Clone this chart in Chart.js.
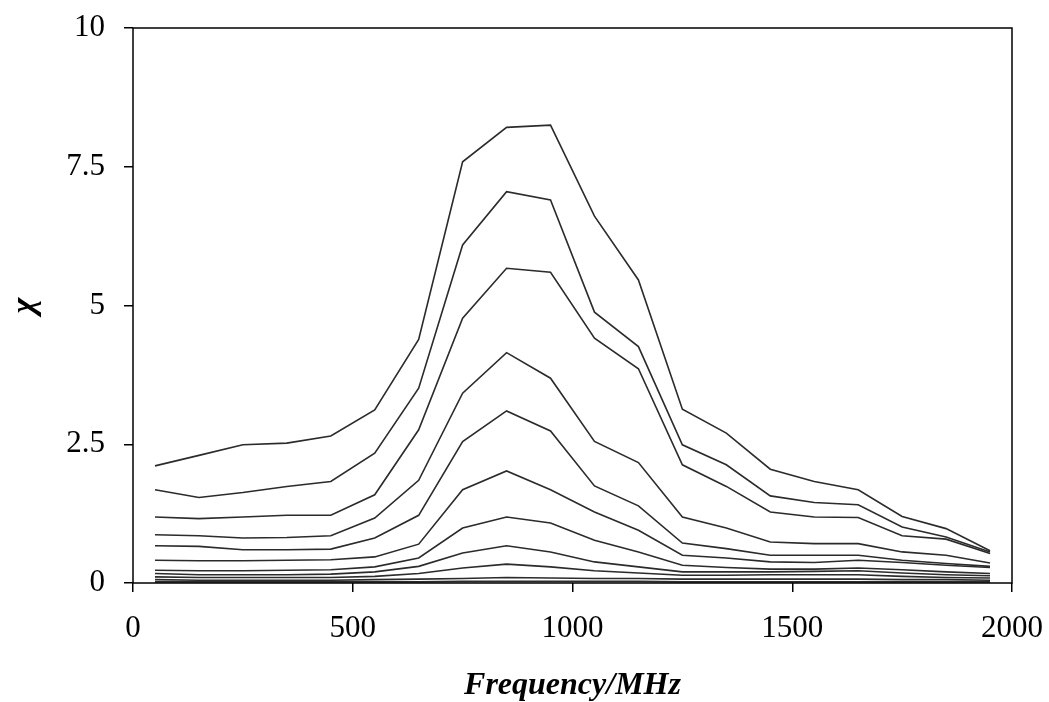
<!DOCTYPE html>
<html>
<head>
<meta charset="utf-8">
<script src="https://cdn.jsdelivr.net/npm/chart.js@4.4.1/dist/chart.umd.min.js"></script>
<style>
  html, body { margin: 0; padding: 0; background: #fff; }
  #wrap { width: 1049px; height: 702px; position: relative; }
</style>
</head>
<body>
<div id="wrap"><canvas id="chart"></canvas></div>
<script>
// frequencies (MHz)
const freq = [50, 150, 250, 350, 450, 550, 650, 750, 850, 950, 1050, 1150, 1250, 1350, 1450, 1550, 1650, 1750, 1850, 1950];

// chi curves, top to bottom
const chi1 = [2.11, 2.30, 2.49, 2.52, 2.65, 3.12, 4.39, 7.59, 8.21, 8.25, 6.61, 5.46, 3.13, 2.70, 2.05, 1.83, 1.68, 1.20, 0.98, 0.58];
const chi2 = [1.68, 1.54, 1.63, 1.74, 1.83, 2.34, 3.51, 6.09, 7.05, 6.90, 4.88, 4.26, 2.49, 2.13, 1.57, 1.45, 1.41, 1.01, 0.83, 0.56];
const chi3 = [1.19, 1.16, 1.19, 1.22, 1.22, 1.59, 2.76, 4.77, 5.67, 5.60, 4.41, 3.86, 2.13, 1.74, 1.28, 1.19, 1.18, 0.85, 0.79, 0.53];
const chi4 = [0.87, 0.85, 0.81, 0.82, 0.85, 1.17, 1.85, 3.42, 4.15, 3.69, 2.55, 2.17, 1.19, 0.99, 0.74, 0.71, 0.71, 0.56, 0.50, 0.36];
const chi5 = [0.67, 0.66, 0.60, 0.60, 0.61, 0.81, 1.22, 2.55, 3.10, 2.74, 1.75, 1.39, 0.72, 0.62, 0.50, 0.50, 0.50, 0.41, 0.35, 0.30];
const chi6 = [0.41, 0.40, 0.40, 0.41, 0.42, 0.47, 0.70, 1.68, 2.02, 1.68, 1.28, 0.95, 0.50, 0.45, 0.38, 0.37, 0.41, 0.37, 0.32, 0.28];
const chi7 = [0.23, 0.22, 0.22, 0.23, 0.24, 0.29, 0.45, 0.99, 1.19, 1.08, 0.77, 0.56, 0.32, 0.28, 0.25, 0.25, 0.27, 0.24, 0.20, 0.17];
const chi8 = [0.17, 0.15, 0.15, 0.15, 0.16, 0.20, 0.30, 0.54, 0.67, 0.56, 0.38, 0.29, 0.20, 0.20, 0.20, 0.21, 0.22, 0.18, 0.15, 0.13];
const chi9 = [0.11, 0.10, 0.10, 0.10, 0.10, 0.12, 0.17, 0.27, 0.34, 0.29, 0.22, 0.18, 0.14, 0.14, 0.15, 0.15, 0.15, 0.12, 0.10, 0.09];
const chi10 = [0.06, 0.05, 0.05, 0.05, 0.05, 0.06, 0.07, 0.08, 0.10, 0.09, 0.08, 0.08, 0.07, 0.07, 0.07, 0.07, 0.07, 0.06, 0.06, 0.05];
const chi11 = [0.02, 0.02, 0.02, 0.02, 0.02, 0.02, 0.02, 0.03, 0.03, 0.03, 0.03, 0.03, 0.02, 0.02, 0.02, 0.02, 0.02, 0.02, 0.02, 0.02];

const allSeries = [chi1, chi2, chi3, chi4, chi5, chi6, chi7, chi8, chi9, chi10, chi11];

// axis ticks
const xTicks = [0, 500, 1000, 1500, 2000];
const yTicks = [0, 2.5, 5, 7.5, 10];

const serif = "'Liberation Serif', 'Times New Roman', serif";

// caixa em volta da área do gráfico
const framePlugin = {
  id: 'frame',
  afterDraw(chart) {
    const a = chart.chartArea;
    const ctx = chart.ctx;
    ctx.save();
    ctx.strokeStyle = '#000';
    ctx.lineWidth = 1.5;
    ctx.strokeRect(a.left, a.top, a.right - a.left, a.bottom - a.top);
    ctx.restore();
  }
};

// tamanho fixo dos eixos, sem o padding extra dos rótulos
function fixAxis(scale, size) {
  if (scale.isHorizontal()) scale.height = size; else scale.width = size;
  scale.paddingTop = 0;
  scale.paddingBottom = 0;
  scale.paddingLeft = 0;
  scale.paddingRight = 0;
}

const datasets = allSeries.map((vals, i) => ({
  label: 'chi' + (i + 1),
  data: freq.map((f, j) => ({ x: f, y: vals[j] })),
  borderColor: '#2b2b2b',
  borderWidth: 1.6,
  pointRadius: 0,
  tension: 0,
  fill: false
}));

new Chart(document.getElementById('chart'), {
  type: 'line',
  data: { datasets: datasets },
  plugins: [framePlugin],
  options: {
    responsive: true,
    maintainAspectRatio: false,
    animation: false,
    layout: { padding: { top: 28, right: 37, bottom: 0, left: 0 } },
    plugins: {
      legend: { display: false },
      tooltip: { enabled: false }
    },
    scales: {
      x: {
        type: 'linear',
        min: 0,
        max: 2000,
        afterBuildTicks: scale => { scale.ticks = xTicks.map(v => ({ value: v })); },
        afterFit: scale => fixAxis(scale, 119),
        border: { display: false },
        grid: { drawOnChartArea: false, drawTicks: true, tickLength: 9, color: '#000', lineWidth: 1.5 },
        ticks: {
          color: '#000', padding: 18, maxRotation: 0,
          font: { family: serif, size: 31 },
          callback: v => String(v)
        },
        title: {
          display: true,
          text: 'Frequency/MHz',
          color: '#000',
          padding: { top: 0, bottom: 0 },
          font: { family: serif, size: 32, style: 'italic', weight: 'bold', lineHeight: 1 }
        }
      },
      y: {
        min: 0,
        max: 10,
        afterBuildTicks: scale => { scale.ticks = yTicks.map(v => ({ value: v })); },
        afterFit: scale => fixAxis(scale, 133),
        border: { display: false },
        grid: { drawOnChartArea: false, drawTicks: true, tickLength: 9, color: '#000', lineWidth: 1.5 },
        ticks: {
          color: '#000', padding: 19,
          font: { family: serif, size: 31 },
          callback: v => String(v)
        },
        title: {
          display: true,
          text: 'χ',
          color: '#000',
          padding: { top: 5, bottom: 0 },
          font: { family: serif, size: 34, style: 'italic', weight: 'bold' }
        }
      }
    }
  }
});
</script>
</body>
</html>
